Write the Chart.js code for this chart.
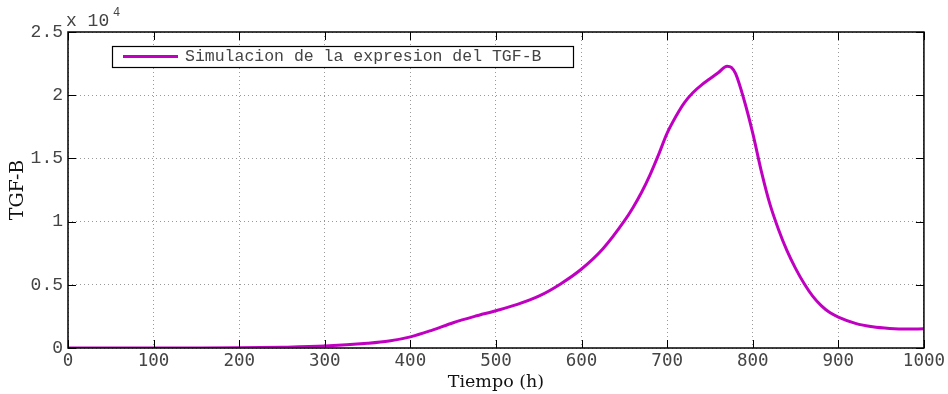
<!DOCTYPE html>
<html>
<head>
<meta charset="utf-8">
<script src="https://cdn.jsdelivr.net/npm/chart.js@4"></script>
<style>
  html, body { margin: 0; padding: 0; background: #fff; }
  #wrap { width: 948px; height: 394px; }
</style>
</head>
<body>
<div id="wrap"><canvas id="chart" width="948" height="394"></canvas></div>
<script>
// time (h)
var tiempo = [0, 50, 100, 150, 200, 250, 300, 350, 375, 400, 425, 450, 475, 500, 525, 550, 575,
    600, 625, 650, 660, 670, 680, 690, 700, 710, 720, 730, 740, 750, 760, 770, 775, 780, 790,
    800, 810, 820, 830, 840, 850, 860, 870, 880, 890, 900, 920, 940, 960, 980, 1000];
// TGF-B expression
var tgfb = [0, 0, 0, 5, 20, 60, 150, 370, 550, 880, 1400, 2000, 2500, 2950, 3450, 4100, 5050,
    6250, 7850, 10050, 11100, 12300, 13700, 15300, 17000, 18300, 19400, 20200, 20800, 21300, 21800, 22300, 22200, 21700, 19600,
    17000, 14000, 11400, 9400, 7700, 6300, 5100, 4100, 3350, 2800, 2450, 1950, 1680, 1550, 1500, 1520];
var seriesLabel = 'Simulacion de la expresion del TGF-B';
var xTicks = [0, 100, 200, 300, 400, 500, 600, 700, 800, 900, 1000];
var yTicks = [0, 5000, 10000, 15000, 20000, 25000];

var lineColor = 'rgb(192, 0, 192)';
var monoTick = '"DejaVu Sans Mono", monospace';
var monoText = '"Liberation Mono", "Courier New", monospace';
var serif = '"DejaVu Serif", "Liberation Serif", serif';

var points = [];
for (var i = 0; i < tiempo.length; i++) {
    points.push({ x: tiempo[i], y: tgfb[i] });
}

// box round the plot, inward ticks, legend box, exponent label
var matlabLook = {
    id: 'matlabLook',
    afterDraw: function(chart) {
        var ctx = chart.ctx;
        var a = chart.chartArea;
        var xs = chart.scales.x, ys = chart.scales.y;
        ctx.save();
        ctx.strokeStyle = '#000';
        ctx.lineWidth = 1;
        ctx.beginPath();
        xTicks.forEach(function(v) {
            var px = Math.round(xs.getPixelForValue(v)) + 0.5;
            ctx.moveTo(px, a.bottom); ctx.lineTo(px, a.bottom - 8);
            ctx.moveTo(px, a.top); ctx.lineTo(px, a.top + 8);
        });
        yTicks.forEach(function(v) {
            var py = Math.round(ys.getPixelForValue(v)) + 0.5;
            ctx.moveTo(a.left, py); ctx.lineTo(a.left + 8, py);
            ctx.moveTo(a.right, py); ctx.lineTo(a.right - 8, py);
        });
        ctx.stroke();
        ctx.lineWidth = 1.5;
        ctx.strokeRect(a.left, a.top, a.right - a.left, a.bottom - a.top);

        // legend
        var lx = 112.5, ly = 46.5, lw = 461, lh = 21;
        ctx.fillStyle = '#fff';
        ctx.fillRect(lx, ly, lw, lh);
        ctx.lineWidth = 1.2;
        ctx.strokeStyle = '#000';
        ctx.strokeRect(lx, ly, lw, lh);
        var ds = chart.data.datasets[0];
        ctx.strokeStyle = ds.borderColor;
        ctx.lineWidth = 3;
        ctx.beginPath();
        ctx.moveTo(123, 56.5); ctx.lineTo(178, 56.5);
        ctx.stroke();
        ctx.fillStyle = '#444';
        ctx.font = '16.5px ' + monoText;
        ctx.textBaseline = 'middle';
        ctx.textAlign = 'left';
        ctx.fillText(ds.label, 185, 57);

        // exponent
        ctx.font = '18px ' + monoText;
        ctx.textBaseline = 'alphabetic';
        ctx.fillText('x 10', 66, 26);
        ctx.font = '12px ' + monoText;
        ctx.fillText('4', 113, 16);
        ctx.restore();
    }
};

var ctx = document.getElementById('chart').getContext('2d');
var chart = new Chart(ctx, {
    type: 'line',
    data: {
        datasets: [{
            label: seriesLabel,
            data: points,
            borderColor: lineColor,
            backgroundColor: lineColor,
            borderWidth: 3,
            pointRadius: 0,
            cubicInterpolationMode: 'monotone',
            fill: false
        }]
    },
    options: {
        responsive: false,
        devicePixelRatio: 1,
        animation: false,
        layout: { padding: { left: 0, right: 24, top: 32, bottom: 0 } },
        plugins: {
            legend: { display: false },
            tooltip: { enabled: false }
        },
        scales: {
            x: {
                type: 'linear',
                min: 0,
                max: 1000,
                afterBuildTicks: function(scale) {
                    scale.ticks = xTicks.map(function(v) { return { value: v }; });
                },
                afterFit: function(scale) { scale.height = 46; },
                grid: { color: '#999', lineWidth: 1, drawTicks: false },
                border: { display: false, dash: [1, 3] },
                ticks: {
                    color: '#444',
                    padding: 3,
                    maxRotation: 0,
                    font: { family: monoTick, size: 17.5 },
                    callback: function(v) { return String(v); }
                },
                title: {
                    display: true,
                    text: 'Tiempo (h)',
                    color: '#111',
                    padding: { top: 0, bottom: 1 },
                    font: { family: serif, size: 17.5 }
                }
            },
            y: {
                min: 0,
                max: 25000,
                afterBuildTicks: function(scale) {
                    scale.ticks = yTicks.map(function(v) { return { value: v }; });
                },
                afterFit: function(scale) { scale.width = 68; },
                grid: { color: '#999', lineWidth: 1, drawTicks: false },
                border: { display: false, dash: [1, 3] },
                ticks: {
                    color: '#444',
                    padding: 5,
                    font: { family: monoText, size: 18 },
                    callback: function(v) { return String(v / 10000); }
                },
                title: {
                    display: true,
                    text: 'TGF-B',
                    color: '#111',
                    padding: { top: 7, bottom: 0 },
                    font: { family: serif, size: 19 }
                }
            }
        }
    },
    plugins: [matlabLook]
});
</script>
</body>
</html>
